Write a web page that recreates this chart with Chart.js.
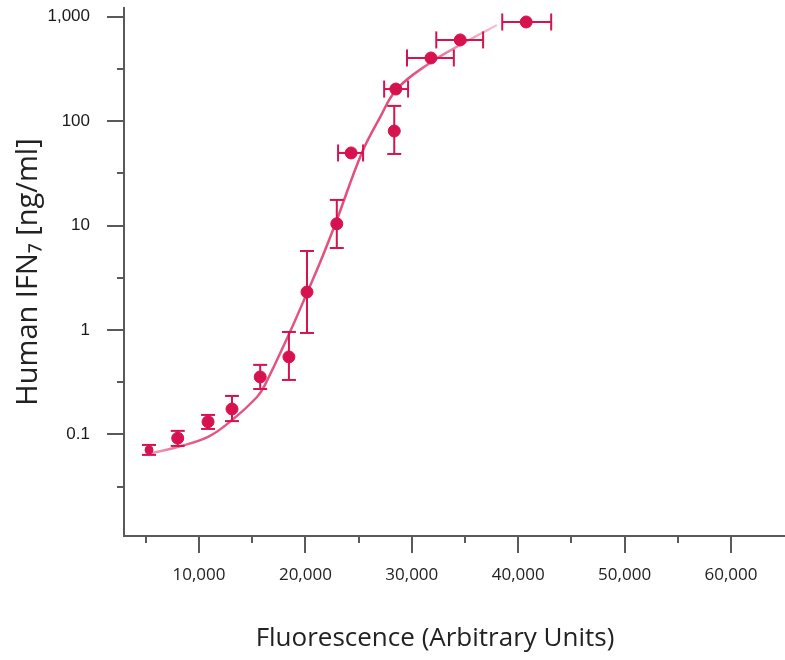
<!DOCTYPE html>
<html>
<head>
<meta charset="utf-8">
<script src="https://cdn.jsdelivr.net/npm/chart.js@4.4.1/dist/chart.umd.min.js"></script>
<style>
  html, body { margin: 0; background: #fff; }
  #wrap { width: 785px; height: 660px; }
</style>
</head>
<body>
<div id="wrap"><canvas id="c" width="785" height="660"></canvas></div>
<script>
/* Human IFN vs fluorescence: measured points with error bars and fitted curve. */

// measured points
var fluor   = [5300, 8000, 10850, 13100, 15750, 18450, 20150, 22950, 24300, 28350, 28500, 31800, 34550, 40750];
var ifn     = [0.071, 0.092, 0.132, 0.175, 0.355, 0.552, 2.31, 10.4, 49.6, 80.5, 203, 403, 600, 891];
// vertical error bars (null = none)
var ifnLo   = [0.0636, 0.0775, 0.1127, 0.134, 0.272, 0.332, 0.936, 6.1, null, 48.5, null, null, null, null];
var ifnHi   = [0.0792, 0.108, 0.1535, 0.2333, 0.463, 0.957, 5.71, 17.6, null, 140, null, null, null, null];
// horizontal error bars (null = none)
var fluorLo = [null, null, null, null, null, null, null, null, 23070, null, 27400, 29550, 32300, 38500];
var fluorHi = [null, null, null, null, null, null, null, null, 25420, null, 29650, 33950, 36700, 43100];

// fitted curve
var fitX = [4900, 5600, 8000, 10850, 13100, 15450, 16200, 18550, 20150, 21550, 22950, 25300, 27000, 28600, 31700, 34550, 38000];
var fitY = [0.0636, 0.0664, 0.0758, 0.0945, 0.137, 0.228, 0.298, 0.958, 2.26, 4.89, 11.3, 49.6, 108, 203, 361, 537, 834];

// axis ticks
var yTicks = [0.1, 1, 10, 100, 1000];
var yMinor = [0.0316, 0.316, 3.16, 31.6, 316];
var xTicks = [10000, 20000, 30000, 40000, 50000, 60000];
var xMinor = [5000, 15000, 25000, 35000, 45000, 55000];

var X_TITLE = "Fluorescence (Arbitrary Units)";
var Y_TITLE = "Human IFN\u2087 [ng/ml]";

var POINT = "#d6124f";
var AXIS = "#5a5a5a";

function pairs(xs, ys) {
  return xs.map(function (v, i) { return { x: v, y: ys[i] }; });
}

function curveColor(ctx) {
  var chart = ctx.chart;
  if (!chart.chartArea || !chart.scales.x) return "rgba(222,58,110,0.85)";
  var x = chart.scales.x;
  var x0 = x.getPixelForValue(fitX[0]), x1 = x.getPixelForValue(fitX[fitX.length - 1]);
  var g = chart.ctx.createLinearGradient(x0, 0, x1, 0);
  g.addColorStop(0, "rgba(222,58,110,0.45)");
  g.addColorStop(0.15, "rgba(222,58,110,0.85)");
  g.addColorStop(0.75, "rgba(222,58,110,0.9)");
  g.addColorStop(1, "rgba(222,58,110,0.3)");
  return g;
}

var errorBars = {
  id: "errorBars",
  afterDatasetsDraw: function (chart) {
    var ctx = chart.ctx, x = chart.scales.x, y = chart.scales.y;
    function seg(a, b, c, d) { ctx.beginPath(); ctx.moveTo(a, b); ctx.lineTo(c, d); ctx.stroke(); }
    ctx.save();
    ctx.strokeStyle = POINT;
    ctx.lineWidth = 2;
    fluor.forEach(function (fx, i) {
      var px = x.getPixelForValue(fx), py = y.getPixelForValue(ifn[i]);
      if (ifnLo[i] != null) {
        var top = y.getPixelForValue(ifnHi[i]), bot = y.getPixelForValue(ifnLo[i]);
        seg(px, top, px, bot);
        seg(px - 7, top, px + 7, top);
        seg(px - 7, bot, px + 7, bot);
      }
      if (fluorLo[i] != null) {
        var l = x.getPixelForValue(fluorLo[i]), r = x.getPixelForValue(fluorHi[i]);
        seg(l, py, r, py);
        seg(l, py - 8.5, l, py + 8.5);
        seg(r, py - 8.5, r, py + 8.5);
      }
    });
    ctx.restore();
  }
};

// minor tick marks + the x title (which sits left of the plot centre in the original)
var axisExtras = {
  id: "axisExtras",
  afterDraw: function (chart) {
    var ctx = chart.ctx, x = chart.scales.x, y = chart.scales.y, a = chart.chartArea;
    ctx.save();
    ctx.strokeStyle = AXIS;
    ctx.lineWidth = 2;
    yMinor.forEach(function (v) {
      var p = Math.round(y.getPixelForValue(v));
      ctx.beginPath(); ctx.moveTo(a.left - 7, p); ctx.lineTo(a.left, p); ctx.stroke();
    });
    xMinor.forEach(function (v) {
      var p = Math.round(x.getPixelForValue(v));
      ctx.beginPath(); ctx.moveTo(p, a.bottom); ctx.lineTo(p, a.bottom + 7); ctx.stroke();
    });
    ctx.fillStyle = "#222";
    ctx.font = "26px 'Open Sans'";
    ctx.textAlign = "center";
    ctx.textBaseline = "middle";
    ctx.fillText(X_TITLE, 435, 639);
    ctx.restore();
  }
};

new Chart(document.getElementById("c"), {
  data: {
    datasets: [
      {
        type: "scatter",
        data: pairs(fluor, ifn),
        backgroundColor: POINT,
        borderColor: POINT,
        pointRadius: fluor.map(function (v, i) { return i === 0 ? 4 : 6; }),
        pointHoverRadius: 6,
        order: 0
      },
      {
        type: "line",
        data: pairs(fitX, fitY),
        borderColor: curveColor,
        borderWidth: 2.5,
        pointRadius: 0,
        tension: 0.4,
        fill: false,
        order: 1
      }
    ]
  },
  options: {
    responsive: false,
    animation: false,
    devicePixelRatio: 1,
    layout: { autoPadding: false, padding: { top: 8, right: 0, bottom: 0, left: 0 } },
    plugins: { legend: { display: false }, tooltip: { enabled: false } },
    scales: {
      x: {
        type: "linear",
        min: 2950,
        max: 65075,
        afterBuildTicks: function (s) { s.ticks = xTicks.map(function (v) { return { value: v }; }); },
        afterFit: function (s) { s.height = 124; s.paddingLeft = 0; s.paddingRight = 0; },
        grid: { display: true, drawOnChartArea: false, drawTicks: true, tickLength: 17, color: AXIS, lineWidth: 2 },
        border: { display: true, color: AXIS, width: 2 },
        ticks: {
          autoSkip: false, maxRotation: 0, padding: 12, color: "#222",
          font: { family: "'Open Sans'", size: 17 },
          callback: function (v) { return v.toLocaleString("en-US"); }
        },
        title: { display: false }
      },
      y: {
        type: "logarithmic",
        min: 0.01063,
        max: 1213,
        afterBuildTicks: function (s) { s.ticks = yTicks.map(function (v) { return { value: v }; }); },
        afterFit: function (s) { s.width = 124; s.paddingTop = 0; s.paddingBottom = 0; },
        grid: { display: true, drawOnChartArea: false, drawTicks: true, tickLength: 17, color: AXIS, lineWidth: 2 },
        border: { display: true, color: AXIS, width: 2 },
        ticks: {
          autoSkip: false, padding: 17, color: "#1a1a1a",
          font: { family: "'Liberation Sans'", size: 17 },
          callback: function (v) { return v.toLocaleString("en-US"); }
        },
        title: {
          display: true, text: Y_TITLE, color: "#222",
          font: { family: "'Open Sans'", size: 29 }, padding: { top: 11, bottom: 0 }
        }
      }
    }
  },
  plugins: [errorBars, axisExtras]
});
</script>
</body>
</html>
